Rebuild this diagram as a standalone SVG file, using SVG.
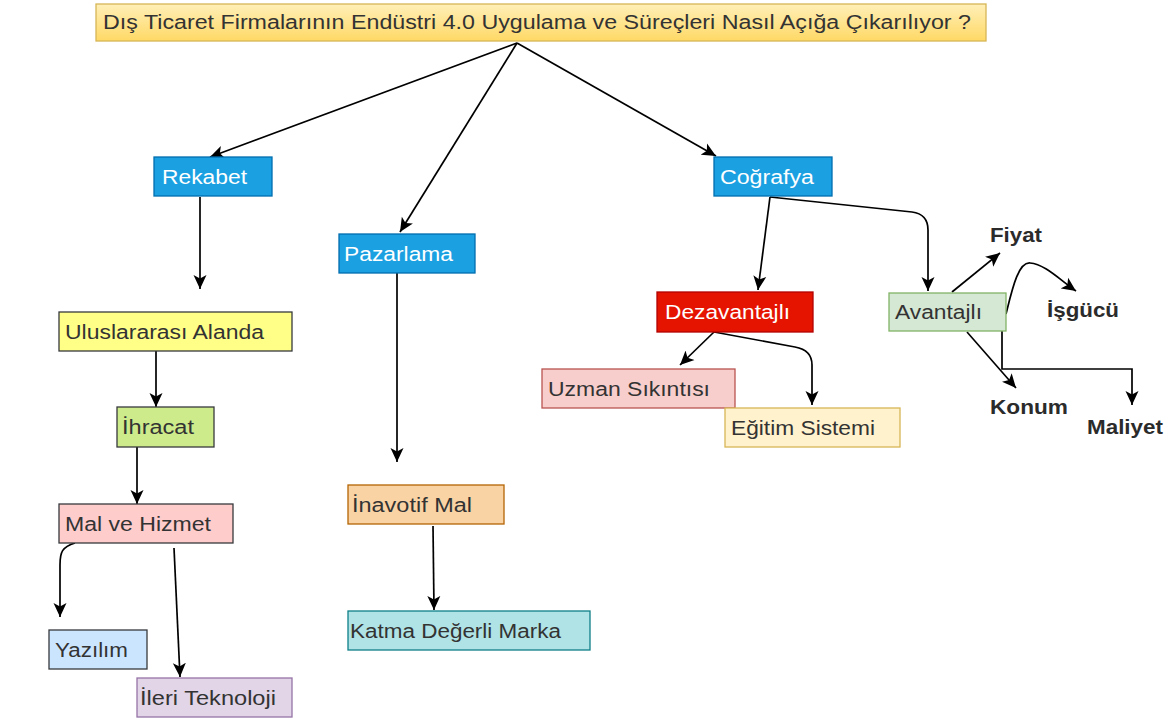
<svg xmlns="http://www.w3.org/2000/svg" width="1174" height="720" viewBox="0 0 1174 720">
<style>
text{font-family:"Liberation Sans",Arial,sans-serif;font-size:19.5px;fill:#333;}
.w{fill:#fff;}
.b{font-weight:bold;fill:#2b2b2b;}
rect{stroke-width:1.3;}
.c path{fill:none;stroke:#000;stroke-width:1.7;marker-end:url(#ah);}
</style>
<defs>
<linearGradient id="tg" x1="0" y1="0" x2="0" y2="1">
<stop offset="0" stop-color="#FFEFB8"/>
<stop offset="1" stop-color="#FFD966"/>
</linearGradient>
<marker id="ah" markerUnits="userSpaceOnUse" markerWidth="16" markerHeight="14" refX="14" refY="6.5" orient="auto" viewBox="0 0 16 13">
<path d="M0,0 L14,6.5 L0,13 L3.5,6.5 z" fill="#000"/>
</marker>
</defs>
<rect width="1174" height="720" fill="#fff"/>
<g id="title">
<rect x="96" y="4" width="890" height="37" fill="url(#tg)" stroke="#D6B656"/>
<text x="103" y="29" textLength="868" lengthAdjust="spacingAndGlyphs">Dış Ticaret Firmalarının Endüstri 4.0 Uygulama ve Süreçleri Nasıl Açığa Çıkarılıyor ?</text>
</g>
<g class="c" id="connectors">
<path d="M517,43 L210,157"/>
<path d="M517,43 L400,232"/>
<path d="M517,43 L716,156"/>
<path d="M200,197 L200,289"/>
<path d="M397,273 L397,462"/>
<path d="M156,351 L156,407"/>
<path d="M137,447 L137,504"/>
<path d="M75,543 C62,547 60,552 60,565 L60,617"/>
<path d="M174,548 L180,677"/>
<path d="M433,526 L434,610"/>
<path d="M770,197 L758,290"/>
<path d="M770,197 L912,212 Q928,214 928,230 L928,291"/>
<path d="M714,332 L680,365"/>
<path d="M714,332 L795,347 Q812,350 812,365 L812,405"/>
<path d="M952,292 L1000,253"/>
<path d="M1006,314 C1012,290 1018,262 1030,263 C1045,264 1060,280 1076,291"/>
<path d="M967,332 L1016,388"/>
<path d="M1002,331 L1002,369 L1132,369 L1132,405"/>
</g>
<g id="rekabet">
<rect x="154" y="157" width="118" height="39" fill="#1BA1E2" stroke="#006EAF"/>
<text class="w" x="162" y="184" textLength="85" lengthAdjust="spacingAndGlyphs">Rekabet</text>
</g>
<g id="pazarlama">
<rect x="339" y="234" width="136" height="39" fill="#1BA1E2" stroke="#006EAF"/>
<text class="w" x="344" y="261" textLength="109" lengthAdjust="spacingAndGlyphs">Pazarlama</text>
</g>
<g id="cografya">
<rect x="714" y="157" width="118" height="39" fill="#1BA1E2" stroke="#006EAF"/>
<text class="w" x="720" y="184" textLength="94" lengthAdjust="spacingAndGlyphs">Coğrafya</text>
</g>
<g id="dezavantajli">
<rect x="657" y="292" width="156" height="40" fill="#E51400" stroke="#B20000"/>
<text class="w" x="665" y="319" textLength="125" lengthAdjust="spacingAndGlyphs">Dezavantajlı</text>
</g>
<g id="avantajli">
<rect x="889" y="293" width="117" height="38" fill="#D5E8D4" stroke="#82B366"/>
<text x="895" y="319" textLength="87" lengthAdjust="spacingAndGlyphs">Avantajlı</text>
</g>
<g id="uzman">
<rect x="542" y="369" width="193" height="39" fill="#F8CECC" stroke="#B85450"/>
<text x="548" y="396" textLength="162" lengthAdjust="spacingAndGlyphs">Uzman Sıkıntısı</text>
</g>
<g id="egitim">
<rect x="725" y="408" width="175" height="39" fill="#FFF2CC" stroke="#D6B656"/>
<text x="731" y="435" textLength="144" lengthAdjust="spacingAndGlyphs">Eğitim Sistemi</text>
</g>
<g id="fiyat"><text class="b" x="990" y="242" textLength="52" lengthAdjust="spacingAndGlyphs">Fiyat</text></g>
<g id="isgucu"><text class="b" x="1047" y="317" textLength="72" lengthAdjust="spacingAndGlyphs">İşgücü</text></g>
<g id="konum"><text class="b" x="990" y="414" textLength="78" lengthAdjust="spacingAndGlyphs">Konum</text></g>
<g id="maliyet"><text class="b" x="1087" y="434" textLength="76" lengthAdjust="spacingAndGlyphs">Maliyet</text></g>
<g id="uluslararasi">
<rect x="59" y="312" width="233" height="39" fill="#FFFF88" stroke="#36393D"/>
<text x="65" y="339" textLength="199" lengthAdjust="spacingAndGlyphs">Uluslararası Alanda</text>
</g>
<g id="ihracat">
<rect x="117" y="407" width="97" height="40" fill="#CDEB8B" stroke="#36393D"/>
<text x="122" y="434" textLength="72" lengthAdjust="spacingAndGlyphs">İhracat</text>
</g>
<g id="malvehizmet">
<rect x="59" y="504" width="174" height="39" fill="#FFCCCC" stroke="#36393D"/>
<text x="65" y="531" textLength="146" lengthAdjust="spacingAndGlyphs">Mal ve Hizmet</text>
</g>
<g id="yazilim">
<rect x="49" y="630" width="98" height="39" fill="#CCE5FF" stroke="#36393D"/>
<text x="55" y="657" textLength="73" lengthAdjust="spacingAndGlyphs">Yazılım</text>
</g>
<g id="ileriteknoloji">
<rect x="137" y="678" width="155" height="39" fill="#E1D5E7" stroke="#9673A6"/>
<text x="140" y="705" textLength="136" lengthAdjust="spacingAndGlyphs">İleri Teknoloji</text>
</g>
<g id="inavotif">
<rect x="348" y="485" width="156" height="39" fill="#FAD3A5" stroke="#B46504"/>
<text x="352" y="512" textLength="120" lengthAdjust="spacingAndGlyphs">İnavotif Mal</text>
</g>
<g id="katma">
<rect x="348" y="611" width="242" height="39" fill="#B0E3E6" stroke="#0E8088"/>
<text x="350" y="638" textLength="211" lengthAdjust="spacingAndGlyphs">Katma Değerli Marka</text>
</g>
</svg>
